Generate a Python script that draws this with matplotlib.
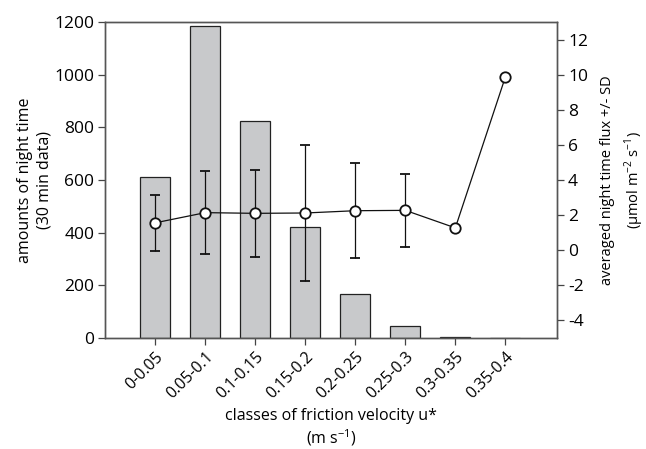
import matplotlib.pyplot as plt

plt.rcParams['font.family'] = ['Open Sans', 'DejaVu Sans']
plt.rcParams['mathtext.fontset'] = 'custom'
plt.rcParams['mathtext.rm'] = 'Open Sans'
plt.rcParams['axes.unicode_minus'] = False

classes = ['0-0.05', '0.05-0.1', '0.1-0.15', '0.15-0.2', '0.2-0.25', '0.25-0.3', '0.3-0.35', '0.35-0.4']
counts = [612, 1184, 826, 422, 166, 47, 5, 0]
flux = [1.55, 2.13, 2.09, 2.11, 2.24, 2.26, 1.26, 9.87]
flux_sd = [1.6, 2.35, 2.5, 3.9, 2.7, 2.1, 0.05, 0.0]

x = list(range(1, len(classes) + 1))

fig, ax = plt.subplots(figsize=(6.46, 4.49), dpi=100)
fig.subplots_adjust(left=0.163, right=0.862, top=0.951, bottom=0.247)

ax.bar(x, counts, width=0.6, color='#c8c9cb', edgecolor='#222222', linewidth=0.9)
ax.set_xlim(0, 9.03)
ax.set_ylim(0, 1200)
ax.set_yticks(range(0, 1201, 200))
ax.set_xticks(x)
ax.set_xticklabels(classes, rotation=45, ha='right', rotation_mode='anchor', fontsize=11.5)
ax.set_ylabel('amounts of night time\n(30 min data)', fontsize=11.5, linespacing=1.3, labelpad=1)
ax.set_xlabel('classes of friction velocity u*\n(m s$^{\\mathrm{-1}}$)', fontsize=11.5, linespacing=1.2)

ax2 = ax.twinx()
ax2.errorbar(x, flux, yerr=flux_sd, color='#111111', linewidth=0.9, elinewidth=0.9,
             capsize=3.5, capthick=0.9, marker='o', markersize=7.5,
             markerfacecolor='white', markeredgecolor='#111111', markeredgewidth=1.3)
ax2.set_ylim(-5.03, 13.01)
ax2.set_yticks(range(-4, 13, 2))
ax2.set_ylabel('averaged night time flux +/- SD\n(µmol m$^{\\mathrm{-2}}$ s$^{\\mathrm{-1}}$)',
               fontsize=10.5, linespacing=1.45, labelpad=9)

ax.tick_params(axis='y', labelsize=12.5)
ax2.tick_params(axis='y', labelsize=12.5)
for a in (ax, ax2):
    a.tick_params(direction='out', length=5, width=0.9, color='#444444', pad=3)
    for s in a.spines.values():
        s.set_color('#555555')
        s.set_linewidth(1.0)

plt.savefig('out.png', dpi=100)
